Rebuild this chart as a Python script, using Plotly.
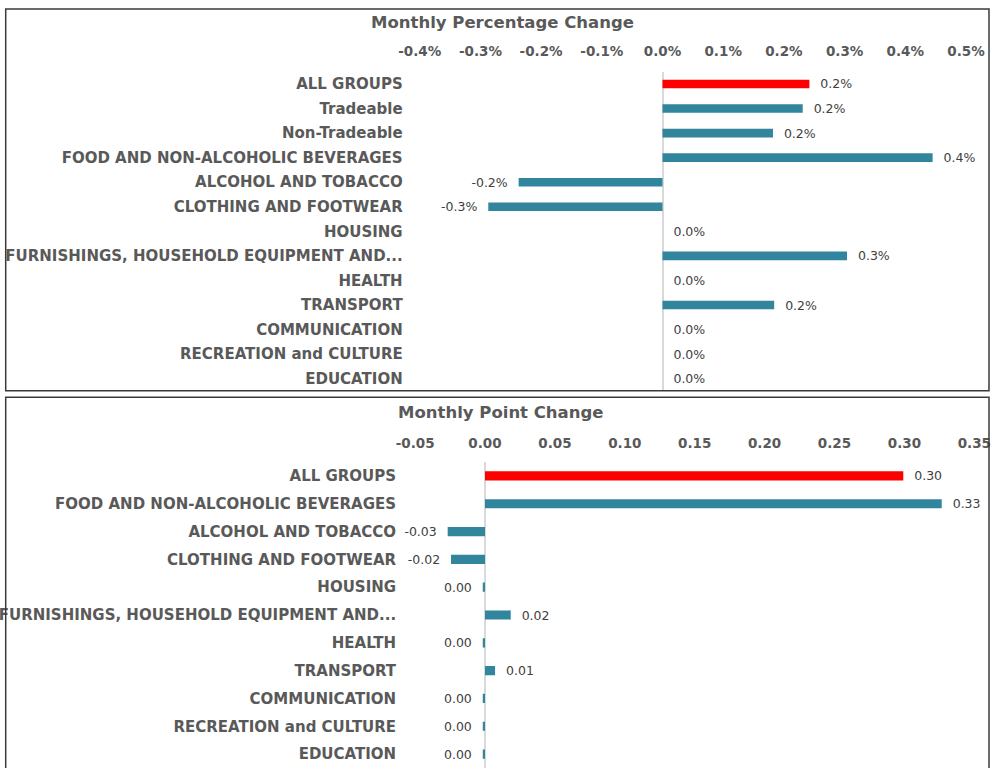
import plotly.graph_objects as go

# ---------------- data ----------------
pct_categories = [
    "ALL GROUPS", "Tradeable", "Non-Tradeable", "FOOD AND NON-ALCOHOLIC BEVERAGES",
    "ALCOHOL AND TOBACCO", "CLOTHING AND FOOTWEAR", "HOUSING",
    "FURNISHINGS, HOUSEHOLD EQUIPMENT AND...", "HEALTH", "TRANSPORT",
    "COMMUNICATION", "RECREATION and CULTURE", "EDUCATION",
]
pct_values = [0.00242, 0.00231, 0.00182, 0.00445, -0.00237, -0.00287, 0.0,
              0.00304, 0.0, 0.00184, 0.0, 0.0, 0.0]

pt_categories = [
    "ALL GROUPS", "FOOD AND NON-ALCOHOLIC BEVERAGES", "ALCOHOL AND TOBACCO",
    "CLOTHING AND FOOTWEAR", "HOUSING", "FURNISHINGS, HOUSEHOLD EQUIPMENT AND...",
    "HEALTH", "TRANSPORT", "COMMUNICATION", "RECREATION and CULTURE", "EDUCATION",
]
pt_values = [0.2992, 0.3267, -0.0267, -0.0243, -0.0016, 0.0184, -0.0016,
             0.0072, -0.0016, -0.0016, -0.0016]

pct_tickvals = [-0.004, -0.003, -0.002, -0.001, 0.0, 0.001, 0.002, 0.003, 0.004, 0.005]
pct_ticktext = ["-0.4%", "-0.3%", "-0.2%", "-0.1%", "0.0%", "0.1%", "0.2%", "0.3%", "0.4%", "0.5%"]
pt_tickvals = [-0.05, 0.0, 0.05, 0.10, 0.15, 0.20, 0.25, 0.30, 0.35]
pt_ticktext = ["-0.05", "0.00", "0.05", "0.10", "0.15", "0.20", "0.25", "0.30", "0.35"]

title_top = "Monthly Percentage Change"
title_bottom = "Monthly Point Change"

# ---------------- styles ----------------
TEAL = "#31859C"
RED = "#FF0000"
GREY = "#595959"
LABEL_GREY = "#404040"
W, H = 991, 768
NB = "\u00a0"


def px_x(p):
    return p / W


def px_y(p):
    return 1 - p / H


def pad(s, v):
    return (NB * 2 + s) if v >= 0 else (s + NB * 2)


pct_text = [pad(f"{v*100:.1f}%", v) for v in pct_values]
pt_text = [pad(f"{v:.2f}".replace("-0.00", "0.00"), v) for v in pt_values]

pct_colors = [RED if c == "ALL GROUPS" else TEAL for c in pct_categories]
pt_colors = [RED if c == "ALL GROUPS" else TEAL for c in pt_categories]

label_font = dict(family="DejaVu Sans", size=12.5, color=LABEL_GREY)

fig = go.Figure()

fig.add_trace(go.Bar(
    x=pct_values, y=pct_categories, orientation="h",
    marker=dict(color=pct_colors, line=dict(width=0)),
    width=0.35,
    text=pct_text, textposition="outside", cliponaxis=False, constraintext="none",
    textfont=label_font,
    xaxis="x", yaxis="y", showlegend=False,
))

fig.add_trace(go.Bar(
    x=pt_values, y=pt_categories, orientation="h",
    marker=dict(color=pt_colors, line=dict(width=0)),
    width=0.33,
    text=pt_text, textposition="outside", cliponaxis=False, constraintext="none",
    textfont=label_font,
    xaxis="x2", yaxis="y2", showlegend=False,
))

axis_font = dict(family="DejaVu Sans", size=13.5, color=GREY, weight="bold")
cat_font = dict(family="DejaVu Sans", size=15, color=GREY, weight="bold")

fig.update_layout(
    width=W, height=H,
    margin=dict(l=0, r=0, t=0, b=0, autoexpand=False),
    paper_bgcolor="white", plot_bgcolor="white",
    xaxis=dict(
        domain=[px_x(419.7), px_x(966.0)], range=[-0.004, 0.005],
        side="top", anchor="y", tickvals=pct_tickvals, ticktext=pct_ticktext,
        showgrid=False, zeroline=True, zerolinecolor="#D9D9D9", zerolinewidth=1.5,
        showline=False, ticks="", ticklabelstandoff=12, tickfont=axis_font,
        automargin=False, fixedrange=True,
    ),
    yaxis=dict(
        domain=[px_y(391.0), px_y(71.7)], range=[12.5, -0.5],
        anchor="x", showgrid=False, showline=False, ticks="",
        ticklabelstandoff=16, tickfont=cat_font, automargin=False, fixedrange=True,
    ),
    xaxis2=dict(
        domain=[px_x(415.1), px_x(974.3)], range=[-0.05, 0.35],
        side="top", anchor="y2", tickvals=pt_tickvals, ticktext=pt_ticktext,
        showgrid=False, zeroline=True, zerolinecolor="#D9D9D9", zerolinewidth=1.5,
        showline=False, ticks="", ticklabelstandoff=10, tickfont=axis_font,
        automargin=False, fixedrange=True,
    ),
    yaxis2=dict(
        domain=[0.0, px_y(462.0)], range=[10.5, -0.5],
        anchor="x2", showgrid=False, showline=False, ticks="",
        ticklabelstandoff=18, tickfont=cat_font, automargin=False, fixedrange=True,
    ),
    annotations=[
        dict(text=f"<b>{title_top}</b>", x=px_x(502), y=px_y(23), xref="paper", yref="paper",
             showarrow=False, xanchor="center", yanchor="middle",
             font=dict(family="DejaVu Sans", size=16.5, color=GREY)),
        dict(text=f"<b>{title_bottom}</b>", x=px_x(501), y=px_y(412), xref="paper", yref="paper",
             showarrow=False, xanchor="center", yanchor="middle",
             font=dict(family="DejaVu Sans", size=16.5, color=GREY)),
    ],
    shapes=[
        dict(type="rect", xref="paper", yref="paper",
             x0=px_x(5.7), x1=px_x(989), y0=px_y(390.7), y1=px_y(9),
             line=dict(color="#3A3A3A", width=1.5), fillcolor="rgba(0,0,0,0)", layer="above"),
        dict(type="rect", xref="paper", yref="paper",
             x0=px_x(5.7), x1=px_x(989), y0=px_y(780), y1=px_y(397.3),
             line=dict(color="#3A3A3A", width=1.5), fillcolor="rgba(0,0,0,0)", layer="above"),
    ],
)

fig.write_html(
    "out.html",
    config={"displayModeBar": False},
    post_script="document.body.style.margin='0';document.body.style.overflow='hidden';",
)
